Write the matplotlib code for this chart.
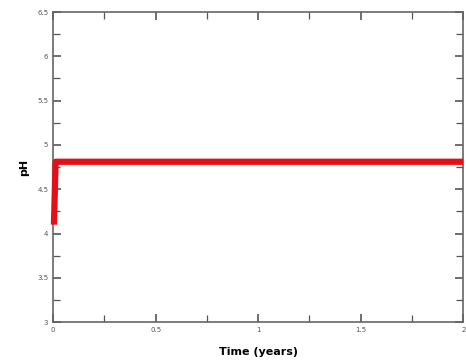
import matplotlib
matplotlib.use("Agg")
from matplotlib import pyplot as plt
from matplotlib.ticker import MultipleLocator

time_years = [0.004, 0.012, 0.5, 1.0, 1.5, 2.0]
ph_values = [4.1, 4.81, 4.81, 4.81, 4.81, 4.81]

x_ticks = [0, 0.5, 1, 1.5, 2]
x_labels = ["0", "0.5", "1", "1.5", "2"]
y_ticks = [3, 3.5, 4, 4.5, 5, 5.5, 6, 6.5]
y_labels = ["3", "3.5", "4", "4.5", "5", "5.5", "6", "6.5"]

fig = plt.figure(figsize=(4.66, 3.64), dpi=100)
ax = fig.add_axes([0.114, 0.115, 0.88, 0.852])

ax.plot(time_years, ph_values, color='#e3101a', linewidth=4.5,
        solid_joinstyle='round', solid_capstyle='butt', clip_on=False, zorder=4)

ax.set_xlim(0, 2)
ax.set_ylim(3, 6.5)
ax.set_xticks(x_ticks)
ax.set_xticklabels(x_labels)
ax.set_yticks(y_ticks)
ax.set_yticklabels(y_labels)
ax.xaxis.set_minor_locator(MultipleLocator(0.25))
ax.yaxis.set_minor_locator(MultipleLocator(0.25))

ax.tick_params(which='both', direction='in', top=True, right=True,
               color='#555555', labelsize=5, labelcolor='#555555')
ax.tick_params(which='major', length=6, width=1.2)
ax.tick_params(which='minor', length=5, width=0.9)
for s in ax.spines.values():
    s.set_color('#666666')
    s.set_linewidth(1.2)

ax.set_xlabel('Time (years)', fontsize=8, fontweight='bold', labelpad=10)
ax.set_ylabel('pH', fontsize=8, fontweight='bold', labelpad=6)

fig.savefig('out.png', dpi=100)
